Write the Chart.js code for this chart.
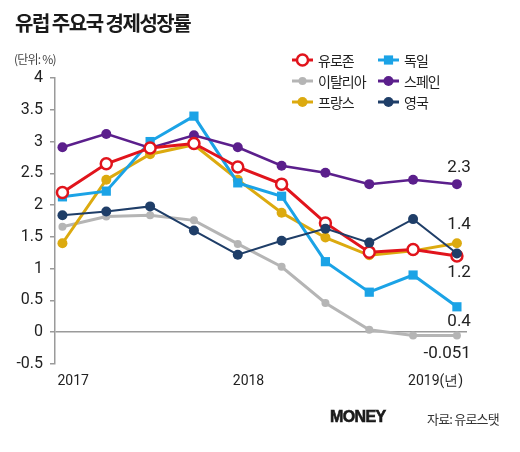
<!DOCTYPE html>
<html>
<head>
<meta charset="utf-8">
<script src="https://cdn.jsdelivr.net/npm/chart.js@4"></script>
<style>
  body { margin: 0; background: #fff; }
  #wrap { position: relative; width: 520px; height: 452px; overflow: hidden; }
  #chart { position: absolute; left: 0; top: 0; }
  .txt { position: absolute; font-family: "Noto Sans CJK KR", sans-serif; color: #222; white-space: nowrap; }
  #title { left: 15px; top: 8px; font-size: 20px; font-weight: 700; letter-spacing: -1.5px; color: #1a1a1a; }
  #unit { left: 14px; top: 50px; font-size: 12px; letter-spacing: -0.8px; color: #444; }
  #brand { left: 330px; top: 408px; font-family: "Liberation Sans", sans-serif; font-size: 16px; font-weight: 900; letter-spacing: -0.6px; color: #1a1a1a; -webkit-text-stroke: 0.6px #1a1a1a; }
  #source { left: 427px; top: 409px; font-size: 13px; letter-spacing: -0.8px; color: #333; }
</style>
</head>
<body>
<div id="wrap">
  <canvas id="chart" width="520" height="452"></canvas>
  <div class="txt" id="title">유럽 주요국 경제성장률</div>
  <div class="txt" id="unit">(단위: %)</div>
  <div class="txt" id="brand">MONEY</div>
  <div class="txt" id="source">자료: 유로스탯</div>
</div>
<script>
// quarterly growth, 2017 Q1 .. 2019 Q2
const quarters = [0, 1, 2, 3, 4, 5, 6, 7, 8, 9];
const yearTicks = [0, 4, 8];
const yearLabels = ["2017", "2018", "2019(년)"];

const seriesNames = ["유로존", "이탈리아", "프랑스", "독일", "스페인", "영국"];
const eurozone = [2.2, 2.65, 2.9, 2.97, 2.6, 2.33, 1.72, 1.26, 1.3, 1.2];
const italy = [1.66, 1.82, 1.84, 1.76, 1.39, 1.03, 0.46, 0.04, -0.05, -0.051];
const france = [1.4, 2.4, 2.8, 2.95, 2.4, 1.88, 1.49, 1.21, 1.28, 1.4];
const germany = [2.13, 2.22, 3.0, 3.4, 2.35, 2.14, 1.11, 0.63, 0.9, 0.4];
const spain = [2.91, 3.12, 2.9, 3.1, 2.91, 2.62, 2.51, 2.33, 2.4, 2.33];
const uk = [1.84, 1.9, 1.98, 1.6, 1.22, 1.44, 1.63, 1.41, 1.78, 1.24];

const endLabels = ["1.2", "-0.051", "1.4", "0.4", "2.3", "1.4"];

const fontNum = "'Roboto', sans-serif";

function pts(arr) {
  return arr.map((v, i) => ({ x: quarters[i], y: v }));
}

const datasets = [
  { label: seriesNames[0], data: pts(eurozone), borderColor: "#e1141c", backgroundColor: "#ffffff",
    borderWidth: 3, pointStyle: "circle", pointRadius: 5.5, pointBorderWidth: 2.5, order: 1,
    endLabel: endLabels[0], labelDy: 17 },
  { label: seriesNames[1], data: pts(italy), borderColor: "#b5b5b5", backgroundColor: "#b5b5b5",
    borderWidth: 3, pointStyle: "circle", pointRadius: 4, pointBorderWidth: 0, order: 5,
    endLabel: endLabels[1], labelDy: 18 },
  { label: seriesNames[2], data: pts(france), borderColor: "#dcaa0f", backgroundColor: "#dcaa0f",
    borderWidth: 3, pointStyle: "circle", pointRadius: 5, pointBorderWidth: 0, order: 4,
    endLabel: endLabels[2], labelDy: -18 },
  { label: seriesNames[3], data: pts(germany), borderColor: "#1ba3e6", backgroundColor: "#1ba3e6",
    borderWidth: 3, pointStyle: "rect", pointRadius: 6.5, pointBorderWidth: 0, order: 3,
    endLabel: endLabels[3], labelDy: 15 },
  { label: seriesNames[4], data: pts(spain), borderColor: "#5b1f8c", backgroundColor: "#5b1f8c",
    borderWidth: 2.5, pointStyle: "circle", pointRadius: 5, pointBorderWidth: 0, order: 2,
    endLabel: endLabels[4], labelDy: -16 },
  { label: seriesNames[5], data: pts(uk), borderColor: "#1f3e68", backgroundColor: "#1f3e68",
    borderWidth: 2, pointStyle: "circle", pointRadius: 5, pointBorderWidth: 0, order: 0,
    endLabel: null, labelDy: 0 },
];

// value labels at the last quarter
const endLabelPlugin = {
  id: "endLabels",
  afterDatasetsDraw(chart) {
    const ctx = chart.ctx;
    ctx.save();
    ctx.font = "17px " + fontNum;
    ctx.fillStyle = "#222";
    ctx.textAlign = "right";
    ctx.textBaseline = "middle";
    chart.data.datasets.forEach((ds, i) => {
      if (!ds.endLabel) return;
      const meta = chart.getDatasetMeta(i);
      const p = meta.data[meta.data.length - 1];
      ctx.fillText(ds.endLabel, p.x + 14, p.y + ds.labelDy);
    });
    ctx.restore();
  },
};

// two-column legend top right
const legendPlugin = {
  id: "cornerLegend",
  afterDraw(chart) {
    const ctx = chart.ctx;
    const cols = [292, 378];
    const rows = [60, 81, 102];
    ctx.save();
    ctx.font = "14px 'Noto Sans CJK KR', sans-serif";
    if ("letterSpacing" in ctx) ctx.letterSpacing = "-1px";
    ctx.textBaseline = "middle";
    chart.data.datasets.forEach((ds, i) => {
      const x = cols[Math.floor(i / 3)];
      const y = rows[i % 3];
      ctx.strokeStyle = ds.borderColor;
      ctx.lineWidth = 3;
      ctx.beginPath();
      ctx.moveTo(x, y);
      ctx.lineTo(x + 21, y);
      ctx.stroke();
      ctx.fillStyle = ds.backgroundColor;
      ctx.lineWidth = ds.pointBorderWidth;
      ctx.beginPath();
      if (ds.pointStyle === "rect") {
        const s = ds.pointRadius * Math.SQRT1_2;
        ctx.rect(x + 10.5 - s, y - s, 2 * s, 2 * s);
      } else {
        ctx.arc(x + 10.5, y, ds.pointRadius, 0, Math.PI * 2);
      }
      ctx.fill();
      if (ds.pointBorderWidth) ctx.stroke();
      ctx.fillStyle = "#222";
      ctx.fillText(ds.label, x + 26, y + 1);
    });
    ctx.restore();
  },
};

const chart = new Chart(document.getElementById("chart"), {
  type: "line",
  data: { datasets },
  options: {
    responsive: false,
    animation: false,
    layout: { padding: { left: 0, top: 78, right: 53, bottom: 58 } },
    plugins: { legend: { display: false }, tooltip: { enabled: false } },
    elements: { line: { tension: 0 } },
    scales: {
      x: {
        type: "linear",
        min: -0.17,
        max: 9.23,
        border: { display: false },
        grid: { display: false, drawTicks: false },
        afterBuildTicks(scale) {
          scale.ticks = yearTicks.map((v) => ({ value: v }));
        },
        afterFit(scale) { scale.height = 30; },
        ticks: {
          align: "start",
          labelOffset: -5,
          padding: 9,
          maxRotation: 0,
          autoSkip: false,
          color: "#222",
          font: { family: fontNum, size: 14 },
          callback: (v) => yearLabels[yearTicks.indexOf(v)],
        },
      },
      y: {
        min: -0.5,
        max: 4,
        border: { display: true, color: "#9a9a9a", width: 1.5 },
        grid: {
          color: (c) => (c.tick && c.tick.value === 0 ? "#9a9a9a" : "rgba(0,0,0,0)"),
          lineWidth: 1.5,
          tickColor: "#9a9a9a",
          tickLength: 5,
          drawTicks: true,
        },
        afterFit(scale) { scale.width = 55; },
        ticks: {
          stepSize: 0.5,
          padding: 7,
          color: "#222",
          font: { family: fontNum, size: 16 },
          callback: (v) => String(v),
        },
      },
    },
  },
  plugins: [endLabelPlugin, legendPlugin],
});
</script>
</body>
</html>
